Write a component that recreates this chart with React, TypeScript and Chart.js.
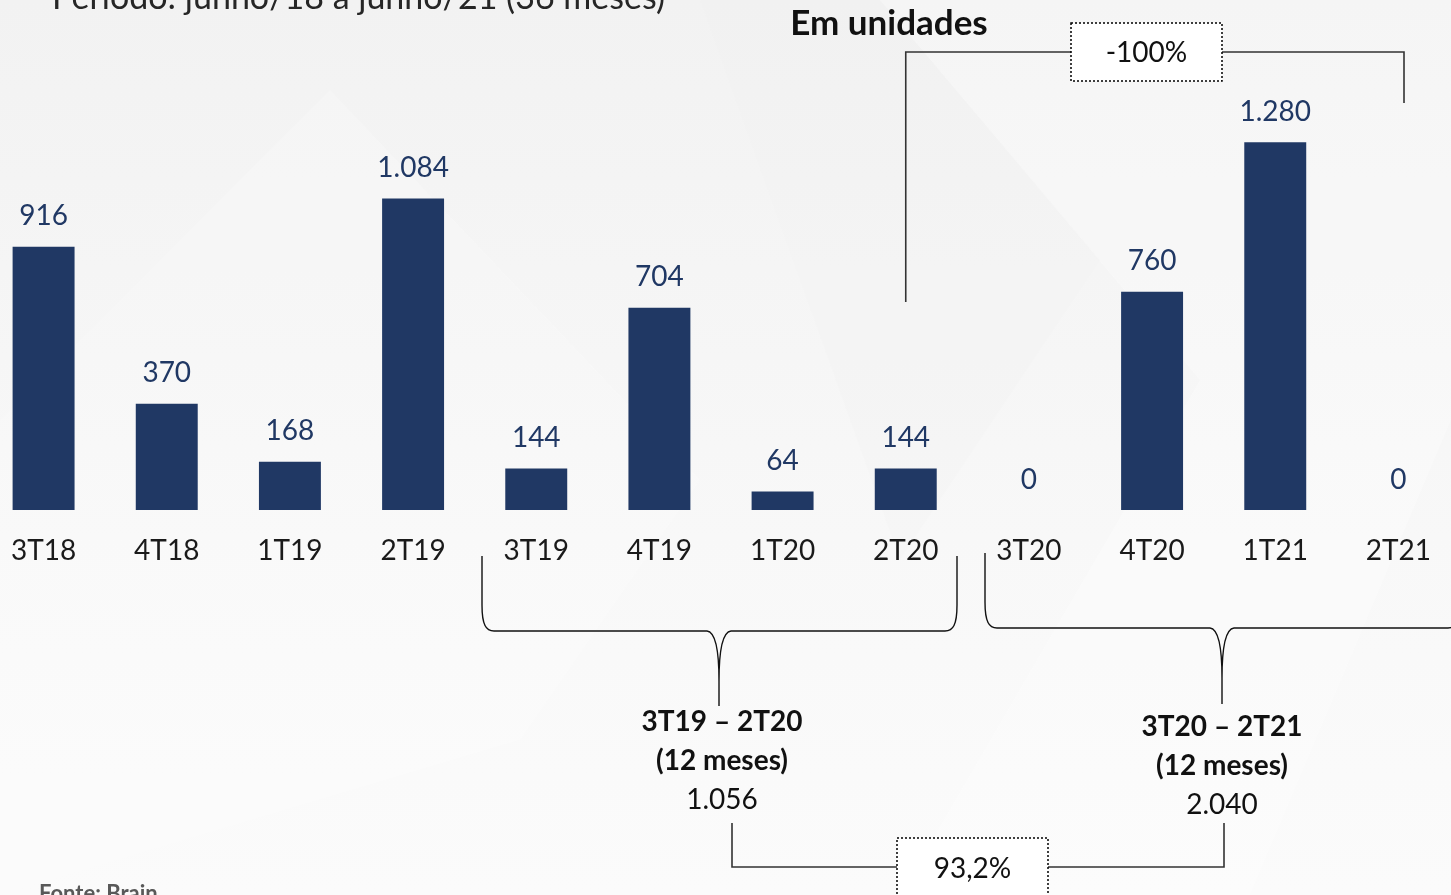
import React, { useEffect, useRef } from "react";
import { Chart, registerables } from "chart.js";

Chart.register(...registerables);

const categories = ["3T18", "4T18", "1T19", "2T19", "3T19", "4T19", "1T20", "2T20", "3T20", "4T20", "1T21", "2T21"];
const values = [916, 370, 168, 1084, 144, 704, 64, 144, 0, 760, 1280, 0];
const valueLabels = ["916", "370", "168", "1.084", "144", "704", "64", "144", "0", "760", "1.280", "0"];
const periodTitle = "Período: junho/18 a junho/21 (36 meses)";
const unitTitle = "Em unidades";
const group1Lines = ["3T19 – 2T20", "(12 meses)", "1.056"];
const group2Lines = ["3T20 – 2T21", "(12 meses)", "2.040"];
const changeTop = "-100%";
const changeBottom = "93,2%";
const sourceText = "Fonte: Brain";

const W = 1451;
const H = 895;
const OFFSET = 18;
const FONT = "Lato, 'Open Sans', sans-serif";
const BAR = "#203864";

function drawBrace(ctx: CanvasRenderingContext2D, xl: number, xr: number, xm: number, top: number, h: number, tip: number) {
  ctx.beginPath();
  ctx.moveTo(xl, top);
  ctx.lineTo(xl, h - 26);
  ctx.bezierCurveTo(xl, h - 6, xl + 4, h, xl + 12, h);
  ctx.lineTo(xm - 12, h);
  ctx.bezierCurveTo(xm - 3, h + 1, xm, h + 20, xm, h + 50);
  ctx.lineTo(xm, tip);
  ctx.moveTo(xm, h + 50);
  ctx.bezierCurveTo(xm, h + 20, xm + 3, h + 1, xm + 12, h);
  ctx.lineTo(xr - 12, h);
  ctx.bezierCurveTo(xr - 4, h, xr, h - 6, xr, h - 26);
  ctx.lineTo(xr, top);
  ctx.stroke();
}

function dottedBox(ctx: CanvasRenderingContext2D, x0: number, y0: number, x1: number, y1: number, label: string, cy: number) {
  ctx.save();
  ctx.fillStyle = "#ffffff";
  ctx.fillRect(x0, y0, x1 - x0, y1 - y0);
  ctx.setLineDash([2, 2]);
  ctx.strokeStyle = "#000";
  ctx.lineWidth = 1.5;
  ctx.strokeRect(x0, y0, x1 - x0, y1 - y0);
  ctx.restore();
  ctx.fillStyle = "#111";
  ctx.font = `28px ${FONT}`;
  ctx.textAlign = "center";
  ctx.textBaseline = "middle";
  ctx.fillText(label, (x0 + x1) / 2, cy);
}

const deco = {
  id: "deco",
  beforeDraw(chart: any) {
    const ctx = chart.ctx as CanvasRenderingContext2D;
    ctx.save();
    ctx.translate(OFFSET, 0);
    const g = ctx.createLinearGradient(0, 0, 0, H);
    g.addColorStop(0, "#f2f2f2");
    g.addColorStop(0.6, "#f8f8f8");
    g.addColorStop(1, "#fbfbfb");
    ctx.fillStyle = g;
    ctx.fillRect(-OFFSET, 0, W + 40, H);
    ctx.fillStyle = "rgba(255,255,255,0.18)";
    ctx.beginPath();
    ctx.moveTo(0, 420);
    ctx.lineTo(330, 90);
    ctx.lineTo(700, 480);
    ctx.lineTo(520, 740);
    ctx.lineTo(0, 895);
    ctx.closePath();
    ctx.fill();
    ctx.fillStyle = "rgba(255,255,255,0.25)";
    ctx.beginPath();
    ctx.moveTo(880, 0);
    ctx.lineTo(1451, 0);
    ctx.lineTo(1451, 420);
    ctx.lineTo(1250, 895);
    ctx.lineTo(900, 895);
    ctx.lineTo(1200, 380);
    ctx.closePath();
    ctx.fill();
    ctx.fillStyle = "rgba(238,238,238,0.2)";
    ctx.beginPath();
    ctx.moveTo(700, 0);
    ctx.lineTo(880, 0);
    ctx.lineTo(1100, 260);
    ctx.lineTo(900, 560);
    ctx.closePath();
    ctx.fill();
    ctx.restore();
  },
  afterDraw(chart: any) {
    const ctx = chart.ctx as CanvasRenderingContext2D;
    const xs = chart.scales.x;
    const ys = chart.scales.y;
    const px = (i: number) => xs.getPixelForValue(i) - OFFSET;

    ctx.save();
    ctx.translate(OFFSET, 0);

    // value labels and category labels
    ctx.textAlign = "center";
    ctx.textBaseline = "middle";
    ctx.font = `28px ${FONT}`;
    values.forEach((v, i) => {
      ctx.fillStyle = BAR;
      ctx.fillText(valueLabels[i], px(i), ys.getPixelForValue(v) - 30.5);
      ctx.fillStyle = "#1a1a1a";
      ctx.fillText(categories[i], px(i), 551);
    });

    // titles
    ctx.fillStyle = "#262626";
    ctx.font = `34px ${FONT}`;
    ctx.textAlign = "left";
    ctx.textBaseline = "alphabetic";
    ctx.fillText(periodTitle, 52, 9);
    ctx.fillStyle = "#111";
    ctx.font = `bold 35px ${FONT}`;
    ctx.textAlign = "center";
    ctx.textBaseline = "middle";
    ctx.fillText(unitTitle, 889, 24);

    // top bracket
    ctx.strokeStyle = "#333";
    ctx.lineWidth = 1.6;
    const xA = px(7);
    ctx.beginPath();
    ctx.moveTo(xA, 302);
    ctx.lineTo(xA, 52);
    ctx.lineTo(1071, 52);
    ctx.moveTo(1222, 52);
    ctx.lineTo(1404, 52);
    ctx.lineTo(1404, 103);
    ctx.stroke();
    dottedBox(ctx, 1071, 23, 1222, 81, changeTop, 53);

    // braces
    ctx.strokeStyle = "#111";
    ctx.lineWidth = 1.4;
    drawBrace(ctx, 482, 957, 719, 556, 631, 706);
    drawBrace(ctx, 985, 1460, 1222, 553, 628, 704);

    // group labels
    ctx.fillStyle = "#111";
    ctx.textAlign = "center";
    ctx.textBaseline = "middle";
    const drawGroup = (lines: string[], cx: number, y0: number) => {
      ctx.font = `bold 28px ${FONT}`;
      ctx.fillText(lines[0], cx, y0);
      ctx.fillText(lines[1], cx, y0 + 39);
      ctx.font = `28px ${FONT}`;
      ctx.fillText(lines[2], cx, y0 + 78);
    };
    drawGroup(group1Lines, 722, 722);
    drawGroup(group2Lines, 1222, 727);

    // bottom bracket
    ctx.strokeStyle = "#333";
    ctx.lineWidth = 1.6;
    ctx.beginPath();
    ctx.moveTo(732, 823);
    ctx.lineTo(732, 867);
    ctx.lineTo(897, 867);
    ctx.moveTo(1048, 867);
    ctx.lineTo(1224, 867);
    ctx.lineTo(1224, 823);
    ctx.stroke();
    dottedBox(ctx, 897, 838, 1048, 905, changeBottom, 869);

    // source
    ctx.fillStyle = "#595959";
    ctx.font = `bold 22px ${FONT}`;
    ctx.textAlign = "left";
    ctx.textBaseline = "alphabetic";
    ctx.fillText(sourceText, 39, 901);

    ctx.restore();
  },
};

export default function App() {
  const ref = useRef<HTMLCanvasElement | null>(null);
  useEffect(() => {
    document.body.style.margin = "0";
    document.body.style.overflow = "hidden";
    const canvas = ref.current!;
    const chart = new Chart(canvas, {
      type: "bar",
      data: {
        labels: categories,
        datasets: [
          {
            data: values,
            backgroundColor: BAR,
            borderWidth: 0,
            categoryPercentage: 1,
            barPercentage: 0.503,
          },
        ],
      },
      options: {
        animation: false,
        responsive: false,
        devicePixelRatio: 1,
        layout: { padding: { top: 79, bottom: H - 510, left: 0, right: 0 } },
        plugins: { legend: { display: false }, tooltip: { enabled: false }, title: { display: false } },
        scales: {
          x: { display: false, offset: true, grid: { display: false } },
          y: { display: false, min: 0, max: 1500, grid: { display: false } },
        },
      },
      plugins: [deco],
    });
    return () => chart.destroy();
  }, []);
  return (
    <div style={{ position: "fixed", left: 0, top: 0, width: W, height: H, overflow: "hidden", background: "#f7f7f7" }}>
      <canvas ref={ref} width={W + 2 * OFFSET - 9} height={H} style={{ position: "absolute", left: -OFFSET, top: 0, width: W + 2 * OFFSET - 9, height: H }} />
    </div>
  );
}
